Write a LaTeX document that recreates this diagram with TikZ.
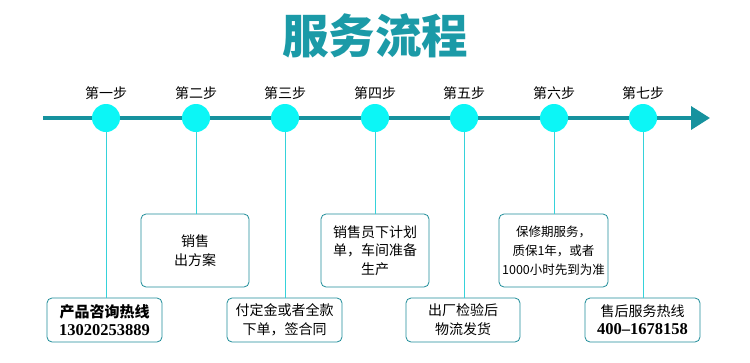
\documentclass[tikz,border=0pt]{standalone}
\usepackage{fontspec}
\setmainfont{Noto Sans CJK SC}
\newfontfamily\numfont{Liberation Serif}
\usetikzlibrary{arrows.meta}
\definecolor{titlec}{HTML}{1B9AA7}
\definecolor{linec}{HTML}{16929E}
\definecolor{dotc}{HTML}{0CF6F6}
\definecolor{vlinec}{HTML}{35D2DA}
\definecolor{boxc}{HTML}{1E8D99}
\tikzset{
  dot/.style={circle,fill=dotc,minimum size=28pt,inner sep=0pt},
  steplabel/.style={font=\fontsize{14}{15}\selectfont,text=black},
  infobox/.style={draw=boxc,line width=0.8pt,rounded corners=5pt,align=center,inner sep=0pt,font=\fontsize{14}{19}\selectfont},
  vline/.style={draw=vlinec,line width=0.9pt}
}
\begin{document}
\begin{tikzpicture}[x=1pt,y=-1pt]
\useasboundingbox[fill=white] (0,0) rectangle (750,362);
\node[text=titlec,font=\fontsize{46.5}{48}\selectfont\bfseries] (title) at (375,36) {服务流程};
% timeline
\coordinate (ls) at (43,118);
\coordinate (le) at (710,118);
\draw[linec,line width=3.6pt,-{Triangle[length=19pt,width=23pt]}] (ls) -- (le);
% dots
\foreach \i/\x/\t in {1/106/第一步,2/196/第二步,3/285/第三步,4/375/第四步,5/464/第五步,6/554/第六步,7/643/第七步}{
  \node[dot] (d\i) at (\x,118) {};
  \node[steplabel] (s\i) at (\x,93) {\t};
}
% boxes
\node[infobox,minimum width=115pt,minimum height=44pt] (b1) at (104.5,320)
  {\bfseries\fontsize{15}{18}\selectfont 产品咨询热线\\[-1pt]{\numfont\bfseries\fontsize{16.5}{18}\selectfont 13020253889}};
\node[infobox,minimum width=108pt,minimum height=73pt] (b2) at (195,250.5)
  {销售\\出方案};
\node[infobox,minimum width=115pt,minimum height=44pt] (b3) at (284.5,320)
  {付定金或者全款\\下单，签合同};
\node[infobox,minimum width=108pt,minimum height=73pt,font=\fontsize{14}{18.5}\selectfont] (b4) at (375,250.5)
  {销售员下计划\\单，车间准备\\生产};
\node[infobox,minimum width=114pt,minimum height=44pt] (b5) at (463,320)
  {出厂检验后\\物流发货};
\node[infobox,minimum width=109pt,minimum height=73pt,font=\fontsize{12.5}{19}\selectfont] (b6) at (553.5,250.5)
  {保修期服务，\\质保1年，或者\\1000小时先到为准};
\node[infobox,minimum width=115pt,minimum height=44pt] (b7) at (642.5,320)
  {售后服务热线\\[-1pt]{\numfont\bfseries\fontsize{16.5}{18}\selectfont 400–1678158}};
% connectors
\draw[vline] (d1.south) -- (d1.south |- b1.north);
\draw[vline] (d2.south) -- (d2.south |- b2.north);
\draw[vline] (d3.south) -- (d3.south |- b3.north);
\draw[vline] (d4.south) -- (d4.south |- b4.north);
\draw[vline] (d5.south) -- (d5.south |- b5.north);
\draw[vline] (d6.south) -- (d6.south |- b6.north);
\draw[vline] (d7.south) -- (d7.south |- b7.north);
\end{tikzpicture}
\end{document}
